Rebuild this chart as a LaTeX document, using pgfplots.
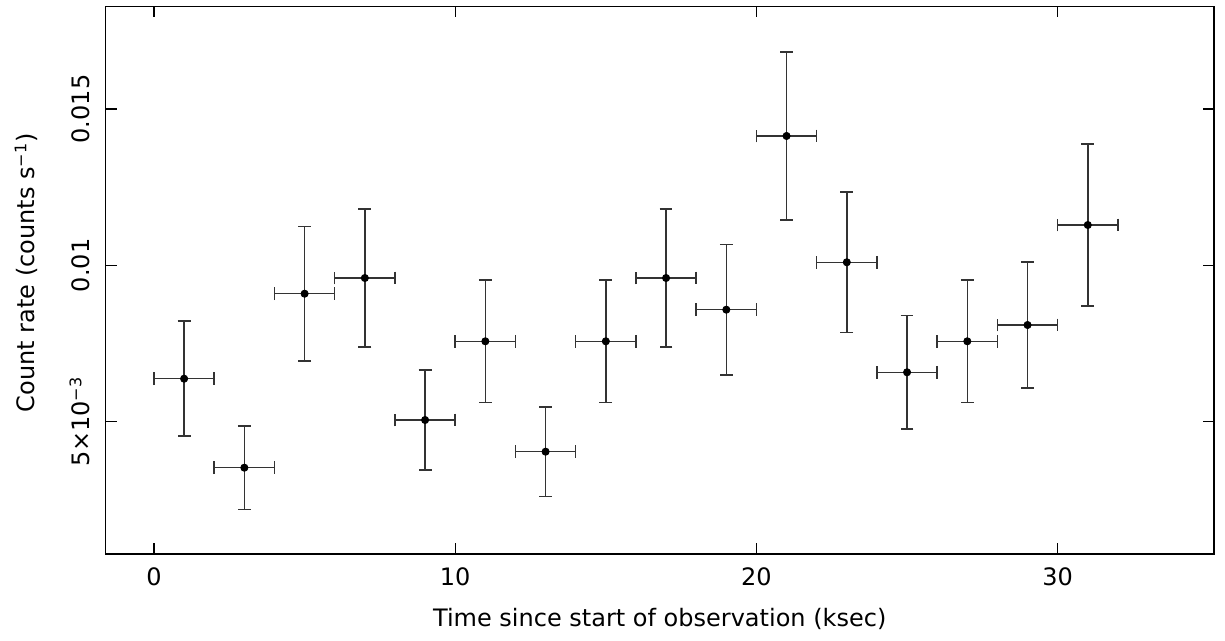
\documentclass[border=0pt]{standalone}
\usepackage{fontspec}
\setmainfont{DejaVu Sans}
\usepackage{pgfplots}
\usepackage{pgfplotstable}
\pgfplotsset{compat=1.18}
\pgfplotstableread{
x y ex ey
1 0.006375 1 0.00184
3 0.003529 1 0.00133
5 0.009093 1 0.00215
7 0.009595 1 0.00220
9 0.005054 1 0.00160
11 0.007571 1 0.00196
13 0.004041 1 0.00143
15 0.007571 1 0.00196
17 0.009595 1 0.00220
19 0.008582 1 0.00209
21 0.014137 1 0.00268
23 0.010098 1 0.00225
25 0.006580 1 0.00182
27 0.007571 1 0.00196
29 0.008092 1 0.00202
31 0.011290 1 0.00259
}\lcdata
\begin{document}
\fontsize{12}{14.4}\selectfont
\begin{tikzpicture}
\begin{axis}[
  at={(52.75pt,43.5pt)}, anchor=south west,
  scale only axis, width=554.25pt, height=273.75pt,
  xmin=-1.61, xmax=35.19, ymin=0.000769, ymax=0.018278,
  xtick={0,10,20,30}, xticklabels={0,10,20,30},
  ytick={0.005,0.01,0.015},
  yticklabels={5×10\textsuperscript{−3},0.01,0.015},
  scaled y ticks=false, scaled x ticks=false,
  minor tick num=0,
  tick align=inside, major tick length=5.5pt,
  every tick/.style={black, line width=0.7pt},
  axis line style={line width=0.8pt},
  xticklabel style={anchor=base, yshift=-16pt},
  yticklabel style={xshift=-7.75pt, rotate=90, anchor=base},
  every axis x label/.style={at={(rel axis cs:0.5,0)}, yshift=-36.5pt, anchor=base},
  every axis y label/.style={at={(rel axis cs:0,0.514)}, xshift=-35.25pt, rotate=90, anchor=base},
  xlabel={Time since start of observation (ksec)},
  ylabel={Count rate (counts s\textsuperscript{−1})},
]
\addplot[only marks, mark=*, mark size=1.8pt, black,
  error bars/.cd, x dir=both, x explicit, y dir=both, y explicit,
  error bar style={line width=0.75pt, black!80},
  error mark options={black!80, line width=0.75pt, mark size=3.2pt, rotate=90}]
  table[x=x, y=y, x error=ex, y error=ey]{\lcdata};
\end{axis}
\pgfresetboundingbox
\path[use as bounding box] (0,0) rectangle (612.5pt,320.5pt);
\end{tikzpicture}
\end{document}
